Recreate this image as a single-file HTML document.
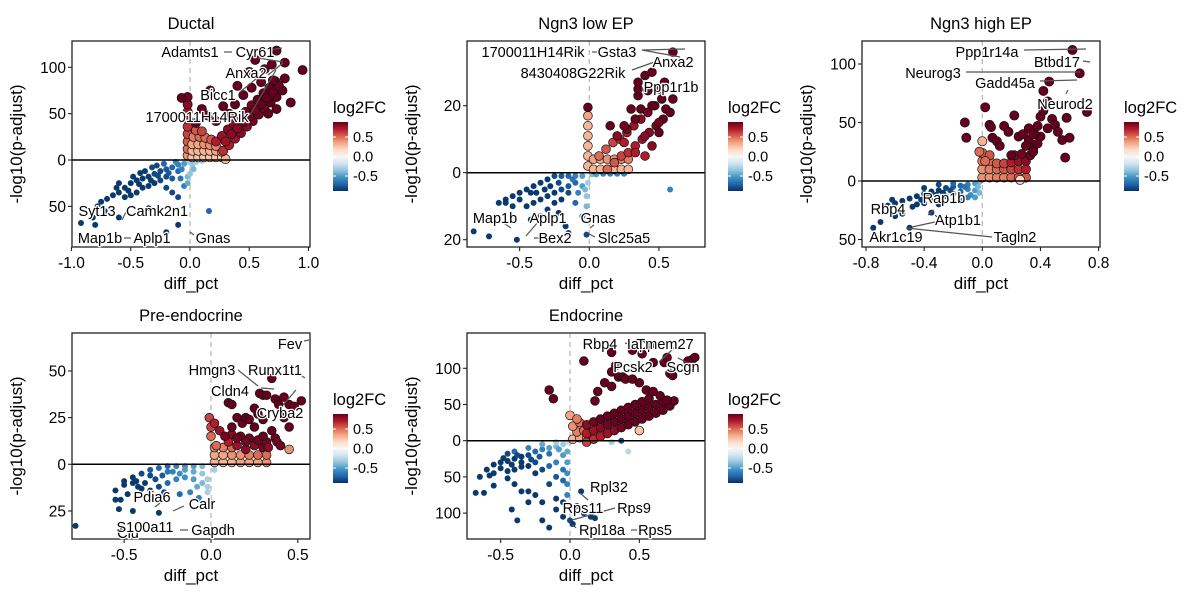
<!DOCTYPE html>
<html><head><meta charset="utf-8"><style>
body{margin:0;background:#fff}
svg{display:block;font-family:"Liberation Sans",Arial,sans-serif}
.lbl{font-size:14.5px;fill:#000;stroke:#fff;stroke-width:2.5px;paint-order:stroke;stroke-linejoin:round}
</style></head><body>
<svg id="chart" width="1200" height="600" viewBox="0 0 1200 600" xmlns="http://www.w3.org/2000/svg"></svg>
<script>
// ---- data: [diff_pct, -log10(p-adjust), log2FC] ; down arrays use absolute -log10 p
const ductalUp=[[-0.02,5,0.4],[-0.02,12,0.5],[-0.02,20,0.55],[-0.02,28,0.6],[-0.02,36,0.65],[-0.02,44,0.7],[-0.02,52,0.75],[-0.02,60,0.8],[-0.02,68,0.85],
[0.02,3,0.25],[0.07,3,0.25],[0.12,3,0.25],[0.17,3,0.25],[0.22,3,0.25],[0.27,3,0.25],[0.3,1,0.3],[0.02,10,0.3],[0.07,10,0.3],[0.12,10,0.3],[0.17,10,0.3],[0.22,10,0.35],[0.27,9,0.35],[0.02,17,0.35],[0.07,17,0.35],[0.12,17,0.4],[0.17,16,0.4],[0.22,15,0.45],[0.03,25,0.45],[0.08,25,0.5],[0.13,24,0.5],[0.18,22,0.55],[0.05,32,0.55],[0.1,31,0.6],
[0.22,20,0.7],[0.28,10,0.65],[0.27,26,0.75],[0.33,16,0.7],[0.32,33,0.8],[0.38,23,0.75],[0.37,39,0.8],[0.43,29,0.8],[0.42,46,0.85],[0.48,36,0.8],[0.47,52,0.85],[0.53,42,0.85],[0.52,59,0.85],[0.58,49,0.85],[0.57,65,0.88],[0.63,55,0.85],[0.62,72,0.88],[0.68,62,0.88],[0.67,78,0.88],[0.73,68,0.88],[0.72,85,0.88],[0.78,75,0.88],[0.3,20,0.75],[0.35,28,0.8],[0.4,34,0.8],[0.45,41,0.85],[0.5,47,0.85],[0.55,54,0.85],[0.6,60,0.88],[0.65,67,0.88],[0.7,73,0.88],[0.75,80,0.88],
[-0.07,67,0.88],[0.17,75,0.88],[0.1,55,0.88],[0.15,48,0.88],[0.22,42,0.88],[0.28,58,0.88],[0.33,50,0.88],[0.38,60,0.88],[0.45,70,0.88],[0.5,95,0.88],[0.55,108,0.88],[0.63,98,0.88],[0.69,103,0.88],[0.8,105,0.88],[0.95,97,0.88],[0.8,88,0.88],[0.73,118,0.88],[0.7,86,0.88],[0.6,84,0.88],[0.52,78,0.88],[0.4,80,0.88],[0.05,40,0.88],[0.66,50,0.88],[0.73,55,0.88],[0.85,62,0.88]];
const ductalDown=[[-0.02,2,-0.3],[-0.05,4,-0.5],[-0.1,5,-0.6],[-0.15,8,-0.7],[-0.2,10,-0.75],[-0.25,12,-0.8],[-0.3,15,-0.8],[-0.35,18,-0.85],[-0.4,20,-0.85],[-0.45,22,-0.85],[-0.5,25,-0.85],[-0.55,30,-0.85],[-0.6,35,-0.85],[-0.65,38,-0.85],[-0.7,42,-0.85],[-0.75,45,-0.85],[-0.1,12,-0.7],[-0.15,20,-0.75],[-0.2,18,-0.8],[-0.25,22,-0.8],[-0.3,25,-0.85],[-0.35,28,-0.85],[-0.4,30,-0.85],[-0.45,35,-0.85],[-0.5,38,-0.85],[-0.55,40,-0.85],[-0.12,2,-0.6],[-0.22,4,-0.7],[-0.32,8,-0.8],[-0.42,14,-0.85],[-0.28,6,-0.8],[-0.38,12,-0.85],[-0.48,18,-0.85],[-0.6,25,-0.85],[-0.2,30,-0.8],[-0.15,35,-0.8],[-0.1,40,-0.8],[-0.05,28,-0.6],[-0.02,18,-0.4],[-0.02,25,-0.45],[0.02,5,-0.35],[0.03,10,-0.4],[0.16,55,-0.7],[-0.92,68,-0.85],[-0.82,62,-0.85],[-0.8,70,-0.85],[-0.6,62,-0.85],[-0.35,52,-0.85],[-0.2,78,-0.85],[-0.1,70,-0.85],[-0.72,55,-0.85],[-0.78,50,-0.85],[0.05,2,-0.3],[0.1,1,-0.3],[0.0,15,-0.35],
[-0.18,14,-0.75],[-0.27,17,-0.8],[-0.33,22,-0.85],[-0.43,26,-0.85],[-0.52,33,-0.85],[-0.62,30,-0.85],[-0.07,10,-0.6],[-0.08,20,-0.65]];
const lowUp=[[-0.01,2,0.3],[-0.01,5,0.3],[-0.01,8,0.3],[-0.01,11,0.3],[-0.01,14,0.3],[-0.01,17,0.35],[-0.01,19.5,0.88],
[0.03,1,0.3],[0.08,1,0.3],[0.13,1,0.3],[0.18,1,0.3],[0.23,1,0.3],[0.28,1,0.3],[0.03,4,0.35],[0.08,4,0.35],[0.13,4,0.4],[0.18,4,0.4],[0.23,4,0.45],[0.28,4,0.45],
[0.07,5,0.5],[0.13,1,0.5],[0.12,7,0.55],[0.18,3,0.55],[0.17,9,0.6],[0.23,5,0.6],[0.22,10,0.65],[0.28,6,0.65],[0.27,12,0.7],[0.33,8,0.7],[0.32,14,0.75],[0.38,10,0.75],[0.37,16,0.8],[0.43,12,0.8],[0.42,18,0.85],[0.48,14,0.85],[0.47,20,0.88],[0.53,16,0.88],
[0.15,14,0.88],[0.2,11,0.8],[0.25,9,0.7],[0.27,13,0.85],[0.33,16,0.88],[0.35,23,0.88],[0.35,25,0.88],[0.35,27,0.88],[0.37,19,0.88],[0.3,19,0.88],[0.42,24.5,0.88],[0.4,29,0.88],[0.45,30,0.88],[0.5,25,0.88],[0.5,15,0.85],[0.55,19,0.88],[0.58,18,0.88],[0.6,22,0.88],[0.6,36,0.88],[0.54,27,0.88],[0.45,20,0.88],[0.42,18,0.85],[0.52,22,0.88],[0.25,14,0.85],[0.45,8,0.8],[0.4,5,0.7],[0.33,6,0.7],[0.5,12,0.88],[0.4,11,0.8]];
const lowDown=[[-0.05,1,-0.5],[-0.1,1,-0.6],[-0.15,1,-0.7],[-0.2,1,-0.75],[-0.25,1,-0.8],[-0.3,2,-0.85],[-0.35,3,-0.85],[-0.4,4,-0.85],[-0.45,5,-0.85],[-0.5,6,-0.85],[-0.55,7,-0.85],[-0.6,8,-0.85],[-0.65,9,-0.85],[-0.1,3,-0.7],[-0.15,4,-0.75],[-0.2,5,-0.8],[-0.25,6,-0.85],[-0.3,7,-0.85],[-0.35,8,-0.85],[-0.4,9,-0.85],[-0.45,10,-0.85],[-0.5,8,-0.85],[-0.2,8,-0.85],[-0.25,9,-0.85],[-0.15,6,-0.8],[-0.05,4,-0.5],[-0.02,7,-0.35],[-0.01,3,-0.3],[0.02,0.5,-0.4],[0.05,0.5,-0.5],[0.1,0.3,-0.6],[0.15,0.3,-0.6],[0.2,0.3,-0.6],[0.25,0.3,-0.6],[-0.55,10,-0.85],[-0.6,9,-0.85],[-0.3,11,-0.85],[-0.35,13,-0.85],[-0.42,14,-0.85],[-0.22,12,-0.85],[-0.17,16,-0.85],[-0.05,13,-0.7],[-0.83,17.5,-0.85],[-0.72,19,-0.85],[-0.52,20,-0.85],[-0.15,18,-0.85],[-0.02,18.5,-0.8],[0.58,5,-0.6],[-0.1,9,-0.7],[-0.08,6,-0.6],
[-0.12,2,-0.65],[-0.22,3,-0.8],[-0.32,5,-0.85],[-0.42,6,-0.85],[-0.28,4,-0.85],[-0.38,6,-0.85],[-0.02,10,-0.4],[-0.03,5,-0.4]];
const highUp=[[0.0,3,0.4],[0.05,3,0.4],[0.1,3,0.45],[0.15,3,0.45],[0.2,3,0.5],[0.25,3,0.55],[0.3,3,0.55],[0.0,10,0.4],[0.05,10,0.45],[0.1,10,0.5],[0.15,10,0.55],[0.2,10,0.6],[0.25,10,0.65],[0.3,10,0.7],[0.0,17,0.45],[0.05,17,0.5],[0.1,15,0.55],[0.15,15,0.6],[0.2,16,0.7],[0.25,17,0.75],[0.3,17,0.8],[0.0,24,0.5],[0.05,22,0.55],[0.22,22,0.8],[0.27,23,0.85],[0.33,22,0.88],[0.26,1,0.2],
[0.35,28,0.88],[0.38,32,0.88],[0.32,35,0.88],[0.4,38,0.88],[0.36,40,0.88],[0.3,30,0.88],
[-0.12,50,0.88],[-0.11,37,0.88],[0.02,63,0.88],[0.05,48,0.88],[0.06,46,0.88],[0.07,37,0.88],[0.1,34,0.88],[0.15,47,0.88],[0.12,30,0.88],[0.18,42,0.88],[0.2,22,0.88],[0.22,56,0.88],[0.25,38,0.88],[0.28,40,0.88],[0.32,45,0.88],[0.35,40,0.88],[0.38,47,0.88],[0.4,55,0.88],[0.42,60,0.88],[0.45,45,0.88],[0.48,53,0.88],[0.5,48,0.88],[0.52,42,0.88],[0.55,35,0.88],[0.58,54,0.88],[0.6,37,0.88],[0.57,20,0.88],[0.72,59,0.88],[0.62,112,0.88],[0.67,92,0.88],[0.46,85,0.88],[0.42,77,0.88],[0.45,68,0.88],[0.35,25,0.88],[0.0,34,0.3],[0.02,17,0.5],[-0.02,25,0.5]];
const highDown=[[-0.02,1,-0.4],[-0.05,2,-0.5],[-0.1,3,-0.6],[-0.15,4,-0.7],[-0.2,5,-0.75],[-0.25,6,-0.8],[-0.3,8,-0.85],[-0.35,9,-0.85],[-0.4,11,-0.85],[-0.45,13,-0.85],[-0.5,15,-0.85],[-0.55,17,-0.85],[-0.6,19,-0.85],[-0.65,21,-0.85],[-0.1,7,-0.6],[-0.15,9,-0.7],[-0.2,11,-0.75],[-0.25,13,-0.8],[-0.3,15,-0.85],[-0.35,17,-0.85],[-0.4,19,-0.85],[-0.45,20,-0.85],[-0.05,8,-0.5],[-0.02,10,-0.4],[-0.05,14,-0.5],[-0.08,12,-0.55],[-0.62,16,-0.85],[-0.7,35,-0.85],[-0.75,40,-0.85],[-0.6,30,-0.85],[-0.55,28,-0.85],[-0.5,40,-0.85],[-0.35,27,-0.85],[-0.3,20,-0.85],[-0.57,25,-0.85],[-0.48,22,-0.85],[-0.2,2,-0.7],[-0.3,3,-0.8],[-0.4,6,-0.85],[-0.1,14,-0.6],[-0.15,17,-0.7],
[-0.12,5,-0.65],[-0.22,8,-0.8],[-0.32,12,-0.85],[-0.42,16,-0.85],[-0.27,10,-0.85],[-0.37,14,-0.85],[-0.03,5,-0.4]];
const preUp=[[0.02,1,0.3],[0.07,1,0.3],[0.12,1,0.3],[0.17,1,0.35],[0.22,1,0.35],[0.27,1,0.35],[0.32,1,0.4],[0.02,5,0.35],[0.07,5,0.35],[0.12,5,0.4],[0.17,5,0.4],[0.22,5,0.45],[0.27,5,0.5],[0.02,9,0.4],[0.07,9,0.45],[0.12,9,0.5],
[0.1,12,0.7],[0.15,10,0.75],[0.2,8,0.8],[0.25,10,0.8],[0.3,9,0.85],[0.12,16,0.8],[0.17,15,0.85],[0.22,14,0.85],[0.27,13,0.85],[0.32,12,0.85],[0.37,14,0.85],
[-0.01,25,0.6],[0.0,20,0.6],[0.0,15,0.5],[0.02,22,0.7],[0.05,18,0.75],[0.03,10,0.5],[0.1,33,0.88],[0.12,32,0.88],[0.15,25,0.88],[0.18,22,0.88],[0.2,25,0.88],[0.22,24,0.88],[0.25,30,0.88],[0.28,38,0.88],[0.3,37,0.88],[0.32,37,0.88],[0.35,46,0.88],[0.37,35,0.88],[0.39,32,0.88],[0.42,36,0.88],[0.45,32,0.88],[0.48,31,0.88],[0.52,34,0.88],[0.45,20,0.88],[0.38,12,0.85],[0.4,10,0.85],[0.35,18,0.88],[0.3,15,0.88],[0.25,20,0.88],[0.3,24,0.88],[0.12,20,0.88],[0.08,15,0.85],[0.45,8,0.4],[0.32,5,0.5],[0.33,9,0.8],[0.2,12,0.85],[0.15,14,0.85],[0.27,27,0.88],[0.42,25,0.88]];
const preDown=[[-0.05,1,-0.4],[-0.1,1,-0.5],[-0.15,1,-0.55],[-0.2,1,-0.6],[-0.25,1,-0.7],[-0.3,2,-0.7],[-0.35,3,-0.75],[-0.4,5,-0.8],[-0.45,7,-0.85],[-0.5,9,-0.85],[-0.55,14,-0.85],[-0.55,19,-0.85],[-0.53,24,-0.85],[-0.52,19,-0.85],[-0.48,16,-0.85],[-0.42,12,-0.85],[-0.38,10,-0.85],[-0.32,8,-0.8],[-0.28,6,-0.75],[-0.22,4,-0.6],[-0.15,3,-0.5],[-0.1,4,-0.45],[-0.05,5,-0.35],[-0.02,8,-0.3],[-0.02,12,-0.3],[-0.02,15,-0.3],[-0.05,10,-0.4],[-0.1,8,-0.5],[-0.15,7,-0.55],[-0.2,8,-0.6],[-0.25,10,-0.7],[-0.3,12,-0.8],[-0.35,14,-0.85],[-0.4,13,-0.85],[-0.45,25,-0.85],[-0.3,26,-0.85],[-0.18,16,-0.7],[-0.12,15,-0.6],[-0.07,18,-0.6],[0.0,20,-0.3],[-0.78,33,-0.85],[-0.5,11,-0.85],[-0.45,10,-0.85],[0.02,3,-0.3],
[-0.25,4,-0.65],[-0.35,6,-0.8],[-0.43,9,-0.85],[-0.18,5,-0.55],[-0.08,12,-0.45],[-0.27,15,-0.8]];
const endoUp=[[0.02,2,0.3],[0.07,4,0.35],[0.12,4,0.4],[0.05,12,0.45],[0.1,14,0.5],[0.15,10,0.55],[0.02,20,0.4],[0.07,25,0.5],
[0.12,-2,0.6],[0.12,10,0.7],[0.12,22,0.8],[0.17,2,0.65],[0.17,14,0.75],[0.17,26,0.85],[0.22,6,0.7],[0.22,18,0.8],[0.22,30,0.88],[0.27,10,0.75],[0.27,22,0.85],[0.27,34,0.88],[0.32,14,0.8],[0.32,26,0.88],[0.32,38,0.88],[0.37,18,0.85],[0.37,30,0.88],[0.37,42,0.88],[0.42,22,0.88],[0.42,34,0.88],[0.42,46,0.88],[0.47,26,0.88],[0.47,38,0.88],[0.47,50,0.88],[0.52,30,0.88],[0.52,42,0.88],[0.52,54,0.88],[0.57,34,0.88],[0.57,46,0.88],[0.57,58,0.88],[0.62,38,0.88],[0.62,50,0.88],[0.67,42,0.88],[0.67,54,0.88],[0.72,48,0.88],[0.75,55,0.88],
[-0.15,70,0.88],[-0.12,58,0.88],[0.1,110,0.88],[0.18,55,0.88],[0.2,68,0.88],[0.25,80,0.88],[0.3,75,0.88],[0.3,95,0.88],[0.35,88,0.88],[0.38,88,0.88],[0.4,85,0.88],[0.45,85,0.88],[0.5,80,0.88],[0.55,70,0.88],[0.6,68,0.88],[0.65,62,0.88],[0.7,56,0.88],[0.3,122,0.88],[0.33,104,0.88],[0.45,125,0.88],[0.52,120,0.88],[0.6,108,0.88],[0.68,108,0.88],[0.7,115,0.88],[0.72,93,0.88],[0.74,90,0.88],[0.88,112,0.88],[0.9,115,0.88],[0.85,110,0.88],[0.5,14,0.25],[0.0,35,0.35],[0.05,30,0.45]];
const endoDown=[[-0.02,2,-0.2],[-0.05,5,-0.3],[-0.1,8,-0.4],[-0.15,10,-0.5],[-0.2,12,-0.6],[-0.25,15,-0.7],[-0.3,20,-0.8],[-0.35,22,-0.85],[-0.4,25,-0.85],[-0.45,28,-0.85],[-0.5,30,-0.85],[-0.55,33,-0.85],[-0.6,40,-0.85],[-0.65,50,-0.85],[-0.68,72,-0.85],[-0.62,72,-0.85],[-0.55,62,-0.85],[-0.45,42,-0.85],[-0.4,40,-0.85],[-0.35,30,-0.85],[-0.3,35,-0.85],[-0.45,18,-0.8],[-0.4,15,-0.7],[-0.3,10,-0.6],[-0.2,5,-0.45],[-0.1,2,-0.3],[-0.25,30,-0.8],[-0.2,40,-0.8],[-0.15,35,-0.7],[-0.1,30,-0.6],[-0.05,20,-0.5],[-0.02,15,-0.45],[-0.02,30,-0.5],[-0.02,45,-0.55],[-0.02,60,-0.6],[-0.02,75,-0.6],[-0.05,55,-0.7],[-0.1,50,-0.75],[-0.15,60,-0.8],[-0.2,85,-0.85],[-0.25,75,-0.85],[-0.3,70,-0.85],[-0.35,70,-0.85],[-0.4,60,-0.85],[-0.45,52,-0.85],[-0.55,45,-0.85],[-0.1,95,-0.85],[-0.2,110,-0.85],[-0.15,120,-0.85],[-0.05,105,-0.85],[0.0,110,-0.8],[0.05,90,-0.85],[0.08,70,-0.85],[0.1,100,-0.85],[0.15,105,-0.85],[0.18,107,-0.85],[0.3,2,-0.3],[0.37,0,-0.8],[0.42,15,-0.25],[-0.3,85,-0.85],[-0.42,95,-0.85],[-0.38,110,-0.85],[0.02,115,-0.85],[-0.1,80,-0.85],[-0.05,85,-0.85],
[-0.35,36,-0.85],[-0.42,33,-0.85],[-0.5,38,-0.85],[-0.28,26,-0.8],[-0.22,22,-0.75],[-0.15,18,-0.65],[-0.08,12,-0.5],[-0.48,24,-0.85],[-0.38,20,-0.8],[-0.58,48,-0.85],[-0.25,45,-0.85],[-0.05,40,-0.65]];

// colour scale ticks
const cbTicks=[0.5,0.0,-0.5];
const cbTickLabels=["0.5","0.0","-0.5"];

const panels=[
 {name:"ductal",title:"Ductal",up:ductalUp,down:ductalDown,l:72,t:41,r:310,b:247,x0:190,kx:118.5,y0:160,ky:0.927,xt:[-1,-0.5,0,0.5,1],yt:[100,50,0,-50],cbx:333,cby:122,r1:4.6,
  labels:[["Adamts1",190,52],["Cyr61",255,52],["Anxa2",246,73],["Bicc1",218,95],["1700011H14Rik",197,117],["Syt13",97,211],["Camk2n1",157,211],["Map1b",100,238],["Aplp1",152,238],["Gnas",213,238]],
  segs:[[224,52,232,52],[270,50,282,48],[258,58,283,62],[268,75,283,63],[240,92,262,74],[250,115,276,70],[122,220,126,212],[124,238,131,238],[190,232,194,235]]},
 {name:"ngn3-low-ep",title:"Ngn3 low EP",up:lowUp,down:lowDown,l:467,t:41,r:705,b:247,x0:589.3,kx:139.3,y0:172.7,ky:3.35,xt:[-0.5,0,0.5],yt:[20,0,-20],cbx:728,cby:122,r1:4.4,
  labels:[["1700011H14Rik",533,52],["Gsta3",617,52],["Anxa2",673,62],["8430408G22Rik",573,73],["Ppp1r1b",671,87],["Map1b",495,218],["Aplp1",548,218],["Gnas",598,218],["Bex2",555,238],["Slc25a5",624,238]],
  segs:[[592,52,598,52],[642,50,685,49],[642,50,680,57],[632,70,660,60],[511,228,502,222],[526,236,538,222],[534,238,540,238],[590,228,594,225],[589,234,595,237]]},
 {name:"ngn3-high-ep",title:"Ngn3 high EP",up:highUp,down:highDown,l:862,t:41,r:1100,b:247,x0:982.3,kx:145.4,y0:181,ky:1.17,xt:[-0.8,-0.4,0,0.4,0.8],yt:[100,50,0,-50],cbx:1124,cby:122,r1:4.6,
  labels:[["Ppp1r14a",987,52],["Btbd17",1057,62],["Neurog3",933,73],["Gadd45a",1005,83],["Neurod2",1065,104],["Rap1b",944,198],["Rbp4",888,209],["Atp1b1",958,220],["Akr1c19",896,237],["Tagln2",1015,237]],
  segs:[[1024,50,1086,49],[966,72,1080,72],[1040,81,1077,80],[1083,61,1090,62],[1068,90,1066,94],[928,215,934,210],[935,215,940,220],[912,227,935,222],[992,237,906,228]]},
 {name:"pre-endocrine",title:"Pre-endocrine",up:preUp,down:preDown,l:72,t:333,r:310,b:539,x0:211,kx:173.7,y0:464.3,ky:1.867,xt:[-0.5,0,0.5],yt:[50,25,0,-25],cbx:333,cby:414,r1:4.4,
  labels:[["Fev",290,344],["Hmgn3",212,370],["Runx1t1",275,370],["Cldn4",230,391],["Cryba2",280,413],["Clu",128,533],["Pdia6",152,497],["Calr",202,504],["S100a11",145,527],["Gapdh",213,530]],
  segs:[[304,341,309,340],[238,370,258,386],[261,388,274,389],[296,390,283,405],[302,376,305,378],[155,507,160,503],[184,506,173,511],[180,530,188,530]]},
 {name:"endocrine",title:"Endocrine",up:endoUp,down:endoDown,l:467,t:333,r:705,b:539,x0:570,kx:138.7,y0:440.7,ky:0.724,xt:[-0.5,0,0.5],yt:[100,50,0,-50,-100],cbx:728,cby:414,r1:4.4,
  labels:[["Rbp4",600,344],["Iapp",641,344],["Tmem27",665,344],["Pcsk2",633,367],["Scgn",683,367],["Rpl32",609,487],["Rps11",583,508],["Rps9",634,508],["Rpl18a",602,530],["Rps5",655,530]],
  segs:[[625,343,632,345],[659,362,675,347],[678,358,686,362],[588,500,580,493],[615,508,572,520],[576,528,572,524],[631,530,637,530]]}
];

const stops=['#053061','#2166ac','#4393c3','#92c5de','#d1e5f0','#f7f7f7','#fddbc7','#f4a582','#d6604d','#b2182b','#67001f'];
function hex(c){return [parseInt(c.slice(1,3),16),parseInt(c.slice(3,5),16),parseInt(c.slice(5,7),16)];}
function fcColor(v){let t=(v+0.88)/1.76;t=Math.max(0,Math.min(1,t))*(stops.length-1);const i=Math.min(stops.length-2,Math.floor(t)),f=t-i;const a=hex(stops[i]),b=hex(stops[i+1]);return 'rgb('+a.map((x,k)=>Math.round(x+(b[k]-x)*f)).join(',')+')';}
const NS='http://www.w3.org/2000/svg';
const svg=document.getElementById('chart');
function mk(tag,attrs,parent){const e=document.createElementNS(NS,tag);for(const k in attrs)e.setAttribute(k,attrs[k]);(parent||svg).appendChild(e);return e;}
function fmt(v){return (Math.abs(v)<1e-9)?"0.0":(Number.isInteger(v)?v.toFixed(1):String(v));}

const defs=mk('defs',{});
const grad=mk('linearGradient',{id:'rdbu',x1:0,y1:1,x2:0,y2:0},defs);
stops.forEach((c,i)=>mk('stop',{offset:(i/(stops.length-1)),'stop-color':c},grad));

panels.forEach(p=>{
 const g=mk('g',{});
 
 
 const X=v=>p.x0+v*p.kx, Y=v=>p.y0-v*p.ky;
 const cx=(p.l+p.r)/2;
 const tt=mk('text',{x:cx,y:p.t-12,'text-anchor':'middle','font-size':16.5},g);tt.textContent=p.title;
 
 
 mk('line',{x1:X(0),x2:X(0),y1:p.t,y2:p.b,stroke:'#bbb','stroke-width':1.3,'stroke-dasharray':'5,4'},g);
 p.down.forEach(d=>{
  const c=mk('circle',{cx:X(d[0]),cy:Y(-d[1]),r:3,fill:fcColor(d[2])},g);
  
  
 });
 p.up.forEach(d=>{
  const c=mk('circle',{cx:X(d[0]),cy:Y(d[1]),r:p.r1,fill:fcColor(d[2]),stroke:'#111','stroke-width':0.7},g);
  
  
 });
 mk('line',{x1:p.l,x2:p.r,y1:Y(0),y2:Y(0),stroke:'#000','stroke-width':1.5},g);
 mk('rect',{x:p.l,y:p.t,width:p.r-p.l,height:p.b-p.t,fill:'none',stroke:'#222','stroke-width':1.3},g);
 p.xt.forEach(v=>{
  mk('line',{x1:X(v),x2:X(v),y1:p.b,y2:p.b+4,stroke:'#222','stroke-width':1.1},g);
  const t=mk('text',{x:X(v),y:p.b+21,'text-anchor':'middle','font-size':15.5},g);t.textContent=fmt(v);
  
  
 });
 p.yt.forEach(v=>{
  mk('line',{x1:p.l-4,x2:p.l,y1:Y(v),y2:Y(v),stroke:'#222','stroke-width':1.1},g);
  const t=mk('text',{x:p.l-6,y:Y(v)+5.5,'text-anchor':'end','font-size':15.5},g);t.textContent=String(Math.abs(v));
  
  
 });
 const xa=mk('text',{x:cx,y:p.b+42,'text-anchor':'middle','font-size':17},g);xa.textContent='diff_pct';
 
 
 const ym=(p.t+p.b)/2;
 const ya=mk('text',{x:p.l-50,y:ym,'text-anchor':'middle','font-size':17,transform:'rotate(-90 '+(p.l-50)+' '+ym+')'},g);ya.textContent='-log10(p-adjust)';
 
 
 p.segs.forEach(s=>mk('line',{x1:s[0],y1:s[1],x2:s[2],y2:s[3],stroke:'#555','stroke-width':1.2},g));
 p.labels.forEach(l=>{
  const t=mk('text',{x:l[1],y:l[2]+5,'text-anchor':'middle',class:'lbl'},g);t.textContent=l[0];
  
  
 });
 const lg=mk('g',{},g);
 
 
 const lt=mk('text',{x:p.cbx,y:p.cby-9,'font-size':16.5},lg);lt.textContent='log2FC';
 mk('rect',{x:p.cbx,y:p.cby,width:15,height:69,fill:'url(#rdbu)'},lg);
 const cmid=p.cby+34.5, ck=39;
 cbTicks.forEach((v,i)=>{
  const yy=cmid-v*ck;
  mk('line',{x1:p.cbx,x2:p.cbx+3,y1:yy,y2:yy,stroke:'#fff','stroke-width':1},lg);
  mk('line',{x1:p.cbx+12,x2:p.cbx+15,y1:yy,y2:yy,stroke:'#fff','stroke-width':1},lg);
  const t=mk('text',{x:p.cbx+20,y:yy+5,'font-size':14.5},lg);t.textContent=cbTickLabels[i];
  
  
 });
});
</script>
</body></html>
